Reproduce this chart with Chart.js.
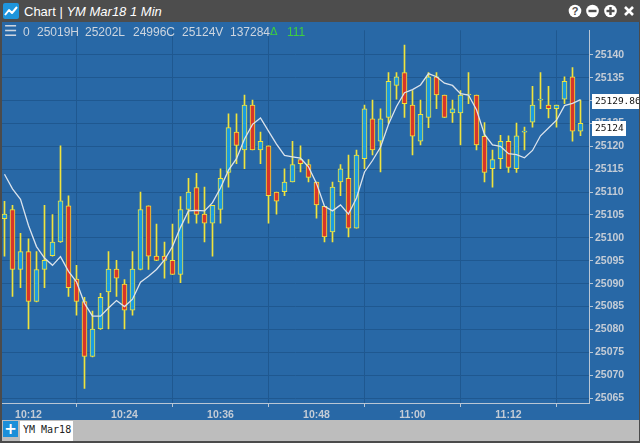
<!DOCTYPE html>
<html>
<head>
<meta charset="utf-8">
<title>Chart | YM Mar18 1 Min</title>
<script src="https://cdn.jsdelivr.net/npm/chart.js@4.4.1/dist/chart.umd.min.js"></script>
<style>
  html, body { margin: 0; padding: 0; }
  body {
    width: 640px; height: 443px; overflow: hidden; position: relative;
    background: #4b4b4b; font-family: "Liberation Sans", Arial, sans-serif;
  }
  #titlebar { position: absolute; left: 0; top: 0; width: 640px; height: 22px; background: #4d4d4d; }
  #title { position: absolute; left: 24px; top: 3px; color: #fff; font-size: 13px; line-height: 17px; white-space: nowrap; }
  #title i { font-style: italic; }
  #plot { position: absolute; left: 2px; top: 22px; width: 637px; height: 398px; background: #2868a6; }
  #chartWrap { position: absolute; left: 0; top: 0; width: 637px; height: 398px; }
  #hdr { position: absolute; left: 0; top: 0; width: 320px; height: 20px; color: #cdd5df; font-size: 12px; }
  #hdr span { position: absolute; top: 3px; line-height: 14px; white-space: nowrap; }
  #hdr .up { color: #3fcf3f; }
  #footer { position: absolute; left: 2px; top: 420px; width: 637px; height: 21px; background: #bdbdbd; }
  #addBtn { position: absolute; left: 1px; top: 1px; width: 15px; height: 16px; background: #1b8fd9; color: #fff;
            font: bold 15px/16px "DejaVu Sans", sans-serif; text-align: center; }
  #tab { position: absolute; left: 18px; top: 1px; width: 53px; height: 20px; background: #fff; color: #222;
         font: 10px/18px "DejaVu Sans Mono", monospace; text-indent: 3px; }
</style>
</head>
<body>
<div id="titlebar">
  <svg style="position:absolute;left:3px;top:3px" width="17" height="16">
    <rect x="0" y="0" width="16" height="16" rx="2" fill="#1e95dc"/>
    <polyline points="2,12 6,7 9,10 14,4" fill="none" stroke="#fff" stroke-width="2" stroke-linejoin="round"/>
  </svg>
  <div id="title">Chart | <i>YM Mar18 1 Min</i></div>
  <svg style="position:absolute;left:566px;top:4px" width="72" height="16">
    <circle cx="9" cy="7" r="6.3" fill="#fff"/>
    <text x="9" y="11" text-anchor="middle" font-family="Liberation Sans" font-weight="bold" font-size="11" fill="#4d4d4d">?</text>
    <circle cx="26.5" cy="7" r="6.3" fill="#fff"/>
    <rect x="22.5" y="5.8" width="8" height="2.4" fill="#4d4d4d"/>
    <circle cx="44.5" cy="7" r="6.3" fill="#fff"/>
    <rect x="40.5" y="5.8" width="8" height="2.4" fill="#4d4d4d"/>
    <rect x="43.3" y="3" width="2.4" height="8" fill="#4d4d4d"/>
    <path d="M59 3 L67 11 M67 3 L59 11" stroke="#fff" stroke-width="2.6"/>
  </svg>
</div>

<div id="plot">
  <div id="chartWrap"><canvas id="chart" width="637" height="398"></canvas></div>
  <div id="hdr">
    <span style="left:2px;top:2px;font-size:15px;font-family:'DejaVu Sans'">&#9776;</span>
    <span style="left:21px">0</span>
    <span style="left:35px">25019H</span>
    <span style="left:83px">25202L</span>
    <span style="left:131px">24996C</span>
    <span style="left:180px">25124V</span>
    <span style="left:228px">137284</span>
    <span class="up" style="left:268px;font-family:'DejaVu Sans';font-size:11px">&#916;</span>
    <span class="up" style="left:285px">111</span>
  </div>
</div>

<div id="footer">
  <div id="addBtn">+</div>
  <div id="tab">YM Mar18</div>
</div>

<script>
// one candle per minute, first one at 10:09
const open = [
  25104.2, 25106.2, 25093.1, 25097.0, 25086.1, 25093.1, 25096.1, 25099.1, 25107.0, 25091.0,
  25086.1, 25074.1, 25080.1, 25088.2, 25093.2, 25089.9, 25084.2, 25093.1, 25107.0, 25096.0,
  25096.0, 25095.1, 25092.0, 25106.2, 25111.0, 25105.2, 25103.2, 25106.2, 25114.3, 25123.1,
  25119.2, 25129.0, 25119.2, 25120.1, 25110.0, 25110.1, 25112.2, 25117.1, 25116.0, 25112.2,
  25106.9, 25101.3, 25112.2, 25113.0, 25102.1, 25117.3, 25126.0, 25121.1, 25126.3, 25133.3,
  25136.1, 25129.0, 25121.1, 25126.3, 25135.2, 25131.2, 25127.3, 25127.3, 25131.2, 25131.2,
  25122.2, 25115.1, 25117.3, 25121.1, 25115.1, 25123.1, 25125.3, 25130.1, 25129.0, 25128.2,
  25130.3, 25135.2, 25123.3
];
const high = [
  25108.0, 25107.1, 25101.0, 25099.8, 25097.0, 25107.1, 25105.1, 25120.1, 25109.2, 25094.0,
  25087.0, 25084.0, 25087.9, 25097.0, 25095.1, 25090.9, 25097.0, 25110.0, 25107.0, 25103.0,
  25099.1, 25103.0, 25109.0, 25113.0, 25114.1, 25111.1, 25107.1, 25115.1, 25127.1, 25127.1,
  25131.2, 25130.1, 25123.1, 25120.1, 25110.0, 25115.1, 25121.1, 25120.1, 25117.1, 25112.2,
  25106.9, 25112.2, 25116.0, 25118.1, 25119.2, 25129.0, 25130.1, 25128.2, 25136.1, 25136.1,
  25142.1, 25132.2, 25130.1, 25136.1, 25136.1, 25131.2, 25130.1, 25132.2, 25136.1, 25131.2,
  25125.2, 25119.2, 25122.4, 25122.3, 25125.1, 25124.2, 25133.1, 25136.1, 25133.1, 25129.0,
  25135.2, 25137.2, 25130.1
];
const low = [
  25096.0, 25087.2, 25089.1, 25080.1, 25086.0, 25089.1, 25096.0, 25099.0, 25087.2, 25083.1,
  25067.1, 25074.0, 25080.0, 25080.1, 25087.2, 25080.1, 25083.1, 25093.0, 25093.1, 25095.0,
  25091.2, 25092.0, 25090.2, 25103.2, 25103.2, 25099.1, 25096.0, 25103.2, 25111.1, 25116.2,
  25115.1, 25119.2, 25116.2, 25103.2, 25105.2, 25109.2, 25112.2, 25114.4, 25112.2, 25104.3,
  25099.1, 25099.1, 25109.2, 25100.2, 25102.1, 25115.1, 25118.1, 25114.4, 25125.0, 25130.3,
  25126.3, 25118.1, 25120.3, 25124.1, 25128.2, 25126.3, 25125.2, 25120.3, 25129.3, 25119.2,
  25112.2, 25111.1, 25115.1, 25114.3, 25114.3, 25119.2, 25124.2, 25128.2, 25126.2, 25124.2,
  25129.3, 25121.1, 25122.3
];
const close = [
  25105.2, 25093.1, 25097.0, 25086.1, 25093.1, 25095.1, 25099.1, 25108.1, 25089.1, 25086.1,
  25074.1, 25080.1, 25087.0, 25093.2, 25091.2, 25084.2, 25093.2, 25106.2, 25096.0, 25095.1,
  25095.1, 25092.0, 25106.2, 25110.0, 25105.1, 25103.2, 25107.1, 25113.0, 25124.1, 25120.2,
  25129.0, 25119.2, 25121.1, 25109.2, 25108.0, 25112.2, 25116.0, 25116.2, 25113.2, 25107.2,
  25100.2, 25111.1, 25115.1, 25102.1, 25118.1, 25128.2, 25119.2, 25126.0, 25134.2, 25135.2,
  25129.3, 25122.2, 25127.0, 25135.2, 25131.2, 25126.3, 25128.2, 25131.2, 25131.2, 25120.3,
  25114.3, 25117.1, 25121.1, 25115.4, 25122.3, 25123.1, 25129.0, 25130.1, 25128.2, 25129.0,
  25134.2, 25123.3, 25125.0
];
// moving average line
const ma = [
  25113.9, 25110.7, 25108.4, 25102.7, 25098.1, 25095.6, 25094.0, 25095.9, 25092.7, 25090.4,
  25085.7, 25082.9, 25082.9, 25084.7, 25086.3, 25085.0, 25086.6, 25090.3, 25091.6, 25093.1,
  25095.2, 25098.1, 25102.3, 25105.9, 25106.0, 25105.9, 25107.7, 25110.9, 25114.8, 25117.3,
  25121.6, 25124.8, 25126.2, 25123.3, 25120.5, 25118.0, 25117.7, 25117.4, 25115.5, 25111.9,
  25106.9, 25105.9, 25107.2, 25105.2, 25108.7, 25114.4, 25116.9, 25119.8, 25124.8, 25128.7,
  25131.7, 25132.4, 25133.4, 25135.9, 25135.2, 25133.8, 25133.3, 25131.5, 25131.2, 25128.0,
  25122.6, 25120.3, 25120.0, 25118.4, 25118.2, 25117.5, 25119.1, 25122.3, 25124.0, 25125.7,
  25128.9, 25129.4, 25130.2
];
const xTickIdx = [3, 15, 27, 39, 51, 63];
const xTickLabels = ["10:12", "10:24", "10:36", "10:48", "11:00", "11:12"];
const yTicks = [25065, 25070, 25075, 25080, 25085, 25090, 25095, 25100, 25105, 25110,
                25115, 25120, 25125, 25130, 25135, 25140];
const maLast = 25129.86;
const lastPrice = 25124;

const UP = "#1a9be0", DOWN = "#d7352b", EDGE = "#f0e33c";
const AXIS = "#b9c6d4", GRID = "#1f5890", LABEL = "#c4ccd6";

const bodies = open.map((o, i) => ({ x: i, y: [o, close[i]] }));
const wicks = low.map((l, i) => ({ x: i, y: [l, high[i]] }));
const maPts = ma.map((v, i) => ({ x: i, y: v }));

// white value boxes on the price axis
const priceTags = {
  id: "priceTags",
  afterDraw(chart) {
    const { ctx, chartArea, scales } = chart;
    const tags = [
      { v: maLast, text: maLast.toFixed(2), w: 60 },
      { v: lastPrice, text: String(lastPrice), w: 34 }
    ];
    ctx.save();
    ctx.font = '9.5px "DejaVu Sans Mono", monospace';
    ctx.textBaseline = "middle";
    tags.forEach(t => {
      const y = Math.round(scales.y.getPixelForValue(t.v));
      const x = chartArea.right + 3;
      ctx.fillStyle = "#ffffff";
      ctx.fillRect(x, y - 7, t.w, 15);
      ctx.fillStyle = "#111111";
      ctx.fillText(t.text, x + 3, y + 1);
    });
    ctx.restore();
  }
};

new Chart(document.getElementById("chart"), {
  type: "bar",
  data: {
    datasets: [
      {
        type: "line", data: maPts, borderColor: "#dbe3ec", borderWidth: 1.3,
        pointRadius: 0, tension: 0, order: 0
      },
      {
        type: "bar", data: bodies, grouped: false, order: 1,
        barThickness: 5, maxBarThickness: 5, minBarLength: 1, borderSkipped: false,
        borderWidth: 1, borderColor: EDGE,
        backgroundColor: c => (close[c.dataIndex] >= open[c.dataIndex] ? UP : DOWN)
      },
      {
        type: "bar", data: wicks, grouped: false, order: 2,
        barThickness: 1, maxBarThickness: 1, backgroundColor: EDGE, borderWidth: 0
      }
    ]
  },
  options: {
    responsive: false,
    animation: false,
    layout: { padding: 0 },
    plugins: { legend: { display: false }, tooltip: { enabled: false } },
    scales: {
      x: {
        type: "linear", min: -0.3125, max: 73.0625, offset: false,
        grid: { color: GRID, tickColor: AXIS, tickLength: 4 },
        border: { color: AXIS },
        ticks: {
          color: LABEL, padding: 2, maxRotation: 0, autoSkip: false,
          font: { family: "Liberation Sans", size: 10.5, weight: "bold" },
          callback: v => xTickLabels[xTickIdx.indexOf(v)] || ""
        },
        afterBuildTicks: s => { s.ticks = xTickIdx.map(v => ({ value: v })); },
        afterFit: s => { s.height = 17; }
      },
      y: {
        position: "right", min: 25063.932, max: 25145.342,
        grid: { color: GRID, tickColor: AXIS, tickLength: 4 },
        border: { color: AXIS },
        ticks: {
          color: LABEL, padding: 2,
          font: { family: "Liberation Sans", size: 10.5, weight: "bold" },
          callback: v => String(v)
        },
        afterBuildTicks: s => { s.ticks = yTicks.map(v => ({ value: v })); },
        afterFit: s => { s.width = 50; }
      }
    }
  },
  plugins: [priceTags]
});
</script>
</body>
</html>
